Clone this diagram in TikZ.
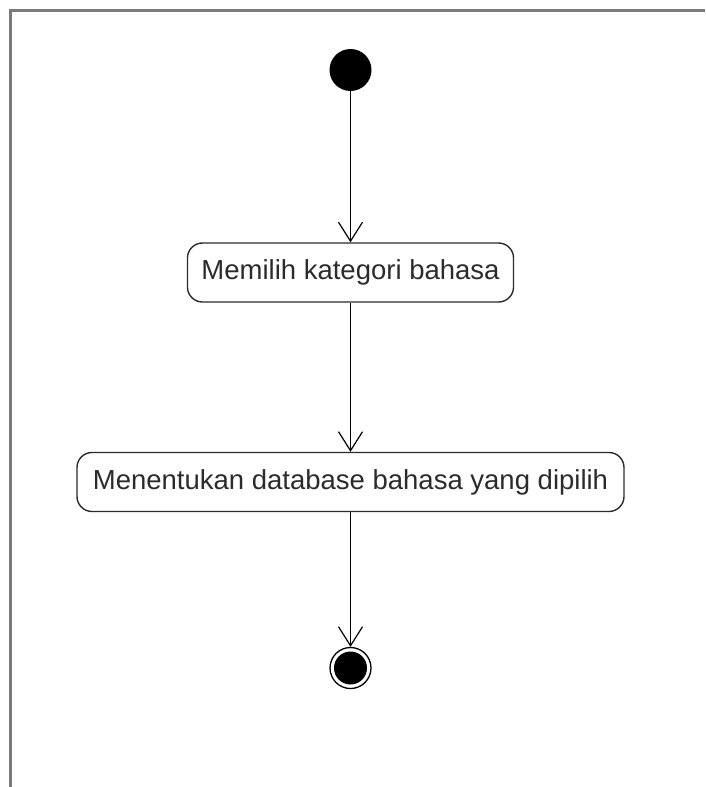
\documentclass[tikz,border=0pt]{standalone}
\usepackage{fontspec}
\setmainfont{Liberation Sans}
\usetikzlibrary{arrows.meta}
\definecolor{framegray}{HTML}{7A7A7A}
\definecolor{inkgray}{HTML}{2B2B2B}
\begin{document}
\begin{tikzpicture}[x=1pt,y=-1pt,
  activity/.style={draw=inkgray, line width=1.4pt, rounded corners=15pt,
    minimum height=59pt, inner xsep=14pt, font=\fontsize{27.5}{30}\selectfont,
    text=inkgray},
  flow/.style={draw=black, line width=1.3pt,
    -{Straight Barb[length=19pt,width=24pt,line width=1.2pt]}},
  framebar/.style={draw=framegray, line width=3pt}]
  \useasboundingbox (0,0) rectangle (705,787);
  % diagram frame
  \coordinate (fc) at (10,10);
  \coordinate (fr) at (705,10);
  \coordinate (fb) at (10,787);
  \draw[framebar] (fb) -- (fc) -- (fr);
  % initial node
  \node[circle, fill=black, minimum size=42pt, inner sep=0pt] (start) at (350.5,70) {};
  % activities
  \node[activity, minimum width=326pt] (a1) at (350.5,272.5) {Memilih kategori bahasa};
  \node[activity, minimum width=547pt] (a2) at (350.5,482) {Menentukan database bahasa yang dipilih};
  % final node
  \node[circle, draw=black, line width=1.3pt, minimum size=41pt, inner sep=0pt] (end) at (350.5,668) {};
  \fill[black] (end.center) circle (16.5pt);
  % control flows
  \draw[flow] (start) -- (a1);
  \draw[flow] (a1) -- (a2);
  \draw[flow] (a2) -- (end);
\end{tikzpicture}
\end{document}
